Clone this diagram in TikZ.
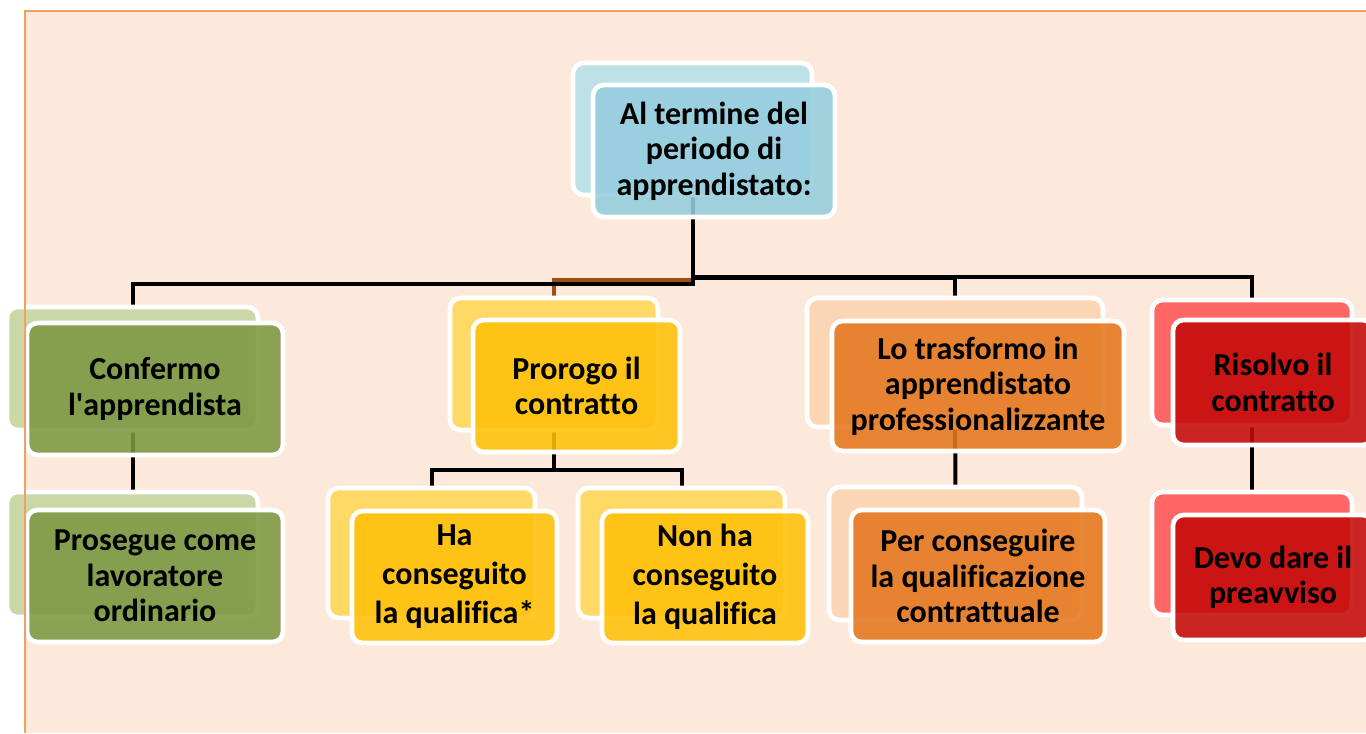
\documentclass[tikz,border=0pt]{standalone}
\usepackage{fontspec}
\setmainfont{Carlito}[Ligatures=NoCommon]
\usepackage{tikz}
\pgfdeclarelayer{lines}
\pgfsetlayers{lines,main}

\definecolor{paper}{RGB}{252,233,219}
\definecolor{frameor}{RGB}{241,160,98}
\definecolor{bluefr}{RGB}{148,205,221}
\definecolor{bluebk}{RGB}{190,225,232}
\definecolor{greenfr}{RGB}{124,152,66}
\definecolor{greenbk}{RGB}{201,216,166}
\definecolor{yellowfr}{RGB}{255,193,10}
\definecolor{yellowbk}{RGB}{255,217,102}
\definecolor{orangefr}{RGB}{228,119,30}
\definecolor{orangebk}{RGB}{251,214,181}
\definecolor{redfr}{RGB}{196,10,10}
\definecolor{redbk}{RGB}{255,102,102}
\definecolor{brownln}{RGB}{160,78,18}

\tikzset{
  dims/.style 2 args={minimum width=#1*0.75pt, minimum height=#2*0.75pt},
  backbox/.style={rounded corners=8pt, draw=white, line width=3.5pt, fill=#1, inner sep=0pt},
  frontbox/.style={rounded corners=8pt, draw=white, line width=3.5pt, fill=#1,
    fill opacity=0.88, text opacity=1, inner sep=0pt, align=center,
    font=\bfseries\fontsize{24}{26.5}\selectfont},
  loose/.style={font=\bfseries\fontsize{24}{29.3}\selectfont},
  link/.style={line width=3pt, black, line cap=rect},
}

\begin{document}
\begin{tikzpicture}[x=0.75pt,y=-0.75pt]
			\useasboundingbox (0,0) rectangle (1366,733);
			% top level
			\node [backbox=bluebk, dims={239}{132}, at={(692.5,129)}] (rootb) {};
			\node [frontbox=bluefr, dims={242}{132}, at={(714,151)}] (root) {Al termine del\\periodo di\\apprendistato:};
			% first row
			\node [backbox=greenbk, dims={251}{123}, at={(132.5,368.5)}] (confb) {};
			\node [frontbox=greenfr, dims={256}{132}, at={(155,389)}] (conf) {Confermo\\l\textquotesingle apprendista};
			\node [backbox=yellowbk, dims={208}{132}, at={(554,364)}] (prorb) {};
			\node [frontbox=yellowfr, dims={207}{132}, at={(576.5,386)}] (pror) {Prorogo il\\contratto};
			\node [backbox=orangebk, dims={296}{129}, at={(955,362.5)}] (trasfb) {};
			\node [frontbox=orangefr, dims={292}{130}, at={(978,386)}] (trasf) {Lo trasformo in\\apprendistato\\professionalizzante};
			\node [backbox=redbk, dims={200}{125}, at={(1252,362.5)}] (risb) {};
			\node [frontbox=redfr, dims={200}{125}, at={(1273,382.5)}] (ris) {Risolvo il\\contratto};
			% second row
			\node [backbox=greenbk, dims={251}{125}, at={(132.5,554.5)}] (proseb) {};
			\node [frontbox=greenfr, dims={256}{132}, at={(155,576)}] (prose) {Prosegue come\\lavoratore\\ordinario};
			\node [backbox=yellowbk, dims={207}{130}, at={(431.5,553)}] (hab) {};
			\node [frontbox=yellowfr, loose, dims={205}{132}, at={(454.5,577)}] (ha) {Ha\\conseguito\\la qualifica*};
			\node [backbox=yellowbk, dims={207}{130}, at={(681.5,553)}] (nonhab) {};
			\node [frontbox=yellowfr, loose, dims={206}{132}, at={(705,577)}] (nonha) {Non ha\\conseguito\\la qualifica};
			\node [backbox=orangebk, dims={253}{133}, at={(955.5,553.5)}] (perb) {};
			\node [frontbox=orangefr, dims={254}{132}, at={(978,576)}] (per) {Per conseguire\\la qualificazione\\contrattuale};
			\node [backbox=redbk, dims={200}{123}, at={(1252,553.5)}] (devob) {};
			\node [frontbox=redfr, dims={200}{125}, at={(1273,577.5)}] (devo) {Devo dare il\\preavviso};
			% connectors under the boxes
			\begin{pgfonlayer}{lines}
			\fill[paper] (25,11) rectangle (1366,733);
			\draw[link,brownln] (rootb.center) -- ++(0,151) -| (prorb.center);
			\draw[link] (rootb.center) -- ++(0,155) -| (confb.center);
			\draw[link] (rootb.center) -- ++(0,149) -| (trasfb.center);
			\draw[link] (rootb.center) -- ++(0,148) -| (risb.center);
			\draw[link] (confb.center) -- (proseb.center);
			\draw[link] (prorb.center) -- ++(0,106) -| (hab.center);
			\draw[link] (prorb.center) -- ++(0,106) -| (nonhab.center);
			\draw[link] (trasfb.center) -- (perb.center);
			\draw[link] (risb.center) -- (devob.center);
			\end{pgfonlayer}
			% frame
			\draw[frameor,line width=1.5pt] (25,733) -- (25,11) -- (1366,11);
\end{tikzpicture}
\end{document}
